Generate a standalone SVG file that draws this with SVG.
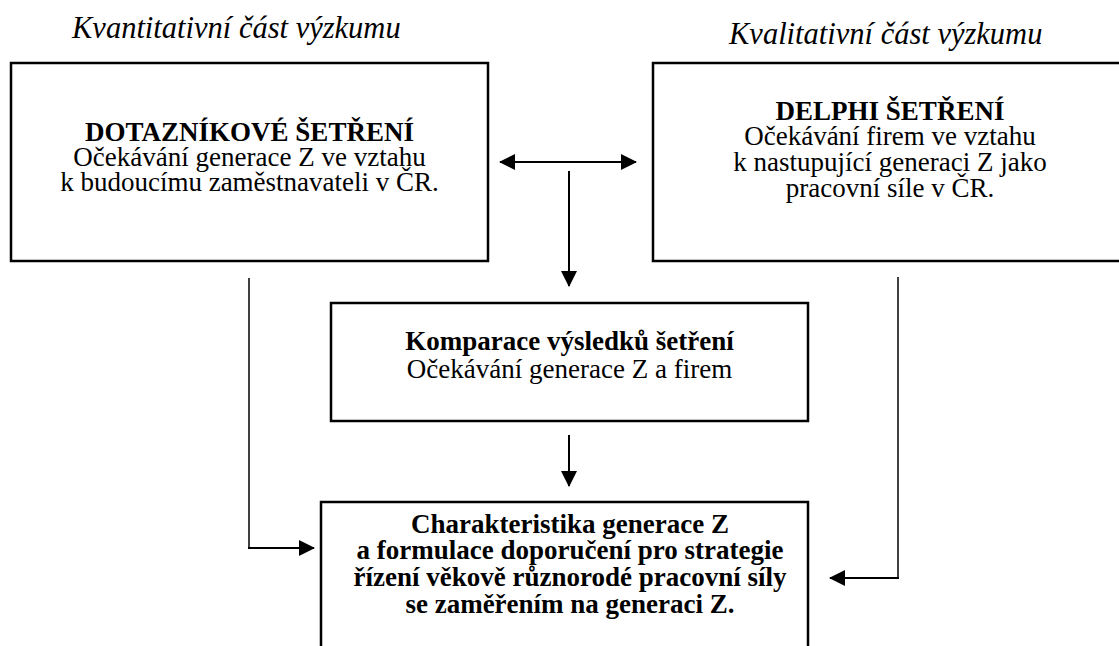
<svg xmlns="http://www.w3.org/2000/svg" width="1119" height="646" viewBox="0 0 1119 646">
  <defs>
    <marker id="arrow" viewBox="0 0 16 16" refX="15" refY="8" markerWidth="16" markerHeight="16" markerUnits="userSpaceOnUse" orient="auto-start-reverse">
      <path d="M0,0 L16,8 L0,16 Z" fill="#000"/>
    </marker>
    <style>
      .box { fill: #fff; stroke: #000; stroke-width: 2.5; }
      .link { fill: none; stroke: #000; stroke-width: 2; }
      .thin { fill: none; stroke: #000; stroke-width: 1.5; }
      .t { font-family: "Liberation Serif", "Times New Roman", serif; font-size: 27px; fill: #000; text-anchor: middle; }
      .b { font-weight: bold; }
      .title { font-family: "Liberation Serif", "Times New Roman", serif; font-size: 30.5px; font-style: italic; fill: #000; }
    </style>
  </defs>
  <rect width="1119" height="646" fill="#fff"/>

  <!-- section headings -->
  <text class="title" x="72" y="38">Kvantitativní část výzkumu</text>
  <text class="title" x="729" y="44">Kvalitativní část výzkumu</text>

  <!-- connectors -->
  <g id="connectors">
    <path class="link" d="M500,162 L636,162" marker-start="url(#arrow)" marker-end="url(#arrow)"/>
    <path class="link" d="M569,171 L569,286" marker-end="url(#arrow)"/>
    <path class="link" d="M569,435 L569,486" marker-end="url(#arrow)"/>
    <path class="thin" d="M249,278 L249,548"/>
    <path class="link" d="M248,548 L314,548" marker-end="url(#arrow)"/>
    <path class="thin" d="M898,277 L898,578"/>
    <path class="link" d="M899,578 L830,578" marker-end="url(#arrow)"/>
  </g>

  <g id="survey">
    <rect class="box" x="11" y="63" width="477" height="198"/>
    <text class="t b" x="249.5" y="141">DOTAZNÍKOVÉ ŠETŘENÍ</text>
    <text class="t" x="249.5" y="166">Očekávání generace Z ve vztahu</text>
    <text class="t" x="249.5" y="191">k budoucímu zaměstnavateli v ČR.</text>
  </g>

  <g id="delphi">
    <rect class="box" x="653" y="63" width="474" height="198"/>
    <text class="t b" x="890" y="120">DELPHI ŠETŘENÍ</text>
    <text class="t" x="890" y="145">Očekávání firem ve vztahu</text>
    <text class="t" x="890" y="171">k nastupující generaci Z jako</text>
    <text class="t" x="890" y="197">pracovní síle v ČR.</text>
  </g>

  <g id="comparison">
    <rect class="box" x="331" y="303" width="477" height="118"/>
    <text class="t b" x="569.5" y="350">Komparace výsledků šetření</text>
    <text class="t" x="569.5" y="378">Očekávání generace Z a firem</text>
  </g>

  <g id="outcome">
    <rect class="box" x="321" y="502" width="487" height="170"/>
    <text class="t b" x="570" y="533">Charakteristika generace Z</text>
    <text class="t b" x="570" y="559">a formulace doporučení pro strategie</text>
    <text class="t b" x="570" y="586">řízení věkově různorodé pracovní síly</text>
    <text class="t b" x="570" y="613">se zaměřením na generaci Z.</text>
  </g>
</svg>
